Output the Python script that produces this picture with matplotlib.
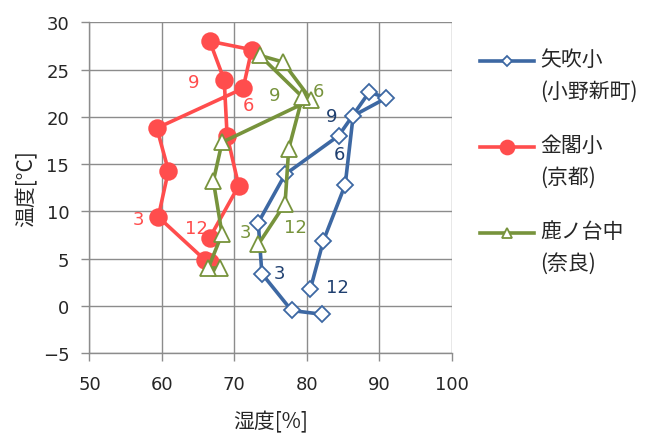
import numpy as np
import matplotlib
matplotlib.use("Agg")
import matplotlib.pyplot as plt
from matplotlib.legend_handler import HandlerLine2D

plt.rcParams['font.family'] = ['DejaVu Sans', 'Noto Sans CJK JP']

# monthly means, Jan..Dec
months = list(range(1, 13))
labelled_months = [3, 6, 9, 12]

yabuki_hum = [82.1, 77.9, 73.8, 73.3, 77.0, 84.4, 88.6, 91.0, 86.4, 85.3, 82.3, 80.5]
yabuki_temp = [-0.9, -0.5, 3.4, 8.8, 13.9, 18.0, 22.6, 22.0, 20.1, 12.8, 6.9, 1.8]

kinkaku_hum = [66.6, 66.0, 59.5, 60.9, 59.3, 71.2, 72.4, 66.6, 68.6, 69.0, 70.6, 66.6]
kinkaku_temp = [4.6, 4.8, 9.4, 14.3, 18.8, 23.0, 27.1, 28.0, 23.9, 18.0, 12.7, 7.2]

shikanodai_hum = [68.0, 66.4, 68.3, 67.1, 68.3, 80.6, 76.7, 73.5, 79.4, 77.5, 77.0, 73.3]
shikanodai_temp = [4.0, 4.0, 7.6, 13.2, 17.3, 21.8, 25.8, 26.5, 22.1, 16.6, 10.8, 6.5]

names = ["矢吹小\n(小野新町)", "金閣小\n(京都)", "鹿ノ台中\n(奈良)"]

FS = 13
JFS = 15
JP = ['Noto Sans CJK JP', 'DejaVu Sans']
GRAY = "#8c8c8c"
TXT = "#262626"

series = [
    # hum, temp, line colour, text colour, marker, ms, legend ms, label offsets (px)
    (yabuki_hum, yabuki_temp, "#3d68a3", "#1f3f6f", "D", 8.6, 5,
     [(18, 1), (1, -18), (-22, 0), (27, 2)]),
    (kinkaku_hum, kinkaku_temp, "#ff4d4d", "#ff4d4d", "o", 12, 10,
     [(-20, -2), (5, -17), (-31, -2), (-13, 10)]),
    (shikanodai_hum, shikanodai_temp, "#77933c", "#77933c", "^", 12, 7,
     [(23, 2), (7, 9), (-28, 2), (37, 17)]),
]

fig = plt.figure(figsize=(6.47, 4.35), dpi=100)
ax = fig.add_axes([0.1383, 0.1862, 0.5598, 0.7602])

handles = []
for (hum, temp, col, tcol, mk, ms, lms, offs), name in zip(series, names):
    ax.plot(hum, temp, color=col, linewidth=2.6, marker=mk, markersize=ms,
            markerfacecolor="white" if mk != "o" else col,
            markeredgecolor=col, markeredgewidth=1.3)
    for m, (dx, dy) in zip(labelled_months, offs):
        i = months.index(m)
        ax.annotate(str(m), xy=(hum[i], temp[i]), xytext=(dx, dy),
                    textcoords="offset pixels", ha="center", va="center",
                    color=tcol, fontsize=FS)
    # proxy artists for the legend
    handles.append(ax.plot([], [], color=col, linewidth=2.6, marker=mk,
                           markersize=lms,
                           markerfacecolor="white" if mk != "o" else col,
                           markeredgecolor=col, markeredgewidth=1.3,
                           label=name)[0])

ax.set_xlim(50, 100)
ax.set_ylim(-5, 30)
ax.set_xticks(np.arange(50, 101, 10))
ax.set_yticks(np.arange(-5, 31, 5))
ax.grid(True, color=GRAY, linewidth=1.0)
ax.set_axisbelow(True)
for s in ["top", "right"]:
    ax.spines[s].set_visible(False)
for s in ["left", "bottom"]:
    ax.spines[s].set_color(GRAY)
    ax.spines[s].set_linewidth(1.0)
ax.tick_params(direction="out", length=6, width=1.0, color=GRAY,
               labelsize=FS, labelcolor=TXT)
ax.tick_params(axis="x", pad=10)
ax.tick_params(axis="y", pad=8.5)
ax.set_xlabel("湿度[%]", fontsize=JFS, family=JP, color=TXT, labelpad=12)
ax.set_ylabel("温度[°C]", fontsize=JFS, family=JP, color=TXT, labelpad=4)


# put the legend line next to the first row of a two-line label
class TopRowHandler(HandlerLine2D):
    def create_artists(self, legend, orig_handle, xdescent, ydescent,
                       width, height, fontsize, trans):
        arts = super().create_artists(legend, orig_handle, xdescent, ydescent,
                                      width, height, fontsize, trans)
        for a in arts:
            a.set_ydata(np.asarray(a.get_ydata()) + 0.72 * fontsize)
        return arts


leg = fig.legend(handles=handles, loc="upper left",
                 bbox_to_anchor=(0.742, 0.888), frameon=False,
                 prop={'family': JP, 'size': JFS},
                 handlelength=3.0 * FS / JFS, handletextpad=0.3,
                 borderpad=0, borderaxespad=0, labelspacing=1.54,
                 handler_map={h: TopRowHandler() for h in handles})
for t in leg.get_texts():
    t.set_linespacing(1.58)
    t.set_color(TXT)

fig.savefig("out.png", dpi=100)
